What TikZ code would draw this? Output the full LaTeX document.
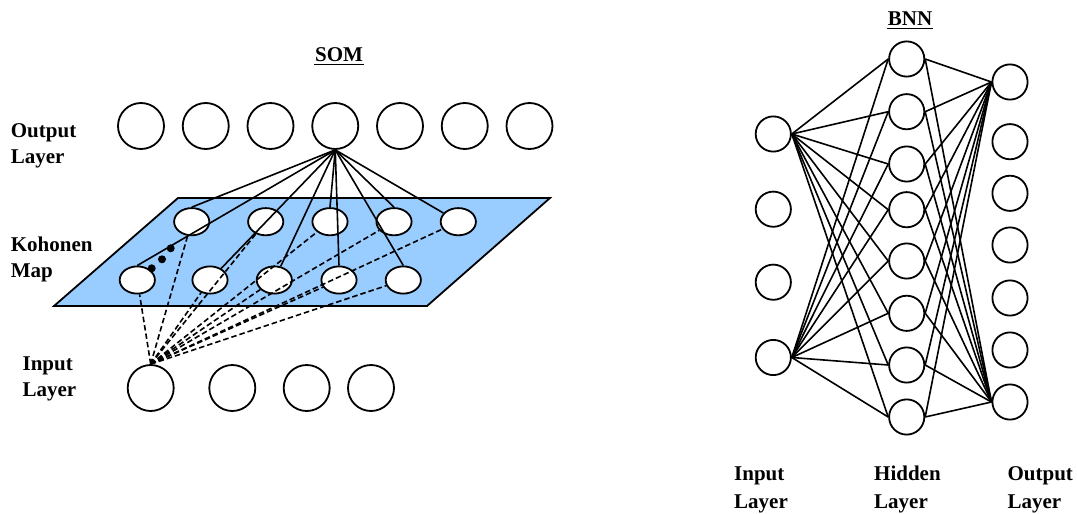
\documentclass[tikz,border=0pt]{standalone}
\usepackage{fontspec}
\setmainfont{Liberation Serif}
\usetikzlibrary{shapes.geometric}
\definecolor{mapblue}{RGB}{153,204,255}

\newcommand{\twoline}[3][0pt]{\begin{tabular}[t]{@{}l@{}}#2\\[#1]#3\end{tabular}}

\begin{document}
\begin{tikzpicture}[x=1pt,y=-1pt,line width=1.8pt,
  neuron/.style={draw,circle,minimum size=46pt,inner sep=0pt},
  unit/.style={draw,circle,minimum size=35.2pt,inner sep=0pt,fill=white},
  cell/.style={draw,ellipse,minimum width=35.2pt,minimum height=27.2pt,inner sep=0pt,fill=white},
  blob/.style={fill,circle,minimum size=8pt,inner sep=0pt},
  lbl/.style={font=\bfseries\fontsize{21}{26}\selectfont,anchor=base west,inner sep=0pt},
  ttl/.style={font=\bfseries\fontsize{21}{26}\selectfont,anchor=base,inner sep=0pt},
  wire/.style={line width=1.6pt},
  feed/.style={line width=1.6pt,dash pattern=on 5.5pt off 3pt},
  uline/.style={line width=1.6pt},
]
\useasboundingbox (0,0) rectangle (1077,514);

% ---------------- SOM ----------------
\node[ttl] (somt) at (339,61.7) {SOM};
\draw[uline] ([yshift=-2.8pt]somt.base west) -- ([yshift=-2.8pt]somt.base east);

\node[lbl] (lout) at (10,137) {\twoline{Output}{Layer}};
\node[lbl] (lmap) at (10,251.7) {\twoline{Kohonen}{Map}};
\node[lbl] (lin)  at (21.7,370) {\twoline{Input}{Layer}};

% output layer
\foreach \i in {1,...,7}
  \node[neuron] (o\i) at ({141+64.75*(\i-1)},126) {};

% input layer
\node[neuron] (i1) at (150.7,388) {};
\node[neuron] (i2) at (232.3,388) {};
\node[neuron] (i3) at (306.7,388) {};
\node[neuron] (i4) at (371,388) {};

% Kohonen map plane
\coordinate (pa) at (178,198);
\coordinate (pb) at (550,198);
\coordinate (pc) at (427,306);
\coordinate (pd) at (54,306);
\filldraw[fill=mapblue] (pa) -- (pb) -- (pc) -- (pd) -- cycle;

% map cells, back row and front row
\node[cell] (t1) at (191.7,221.7) {};
\node[cell] (t2) at (265.7,221.7) {};
\node[cell] (t3) at (330,221.7) {};
\node[cell] (t4) at (394,221.7) {};
\node[cell] (t5) at (458.3,221.7) {};
\node[cell] (b1) at (137.3,280) {};
\node[cell] (b2) at (210,280) {};
\node[cell] (b3) at (274.3,280) {};
\node[cell] (b4) at (339,280) {};
\node[cell] (b5) at (403.3,280) {};

% ellipsis dots
\node[blob] (d1) at (151.7,268.3) {};
\node[blob] (d2) at (162,259.3) {};
\node[blob] (d3) at (170.7,248.3) {};

% input to map (dashed)
\foreach \c in {t1,t2,t3,t4,t5,b1,b2,b3,b4,b5}
  \draw[feed] (i1.north) -- (\c);

% winning output neuron to map (solid)
\draw[wire] (o4.south) -- (t1.north);
\draw[wire] (o4.south) -- (t3.north);
\draw[wire] (o4.south) -- (t4.north);
\draw[wire] (o4.south) -- (t5);
\draw[wire] (o4.south) -- (b1.north);
\draw[wire] (o4.south) -- (b2);
\draw[wire] (o4.south) -- (b3);
\draw[wire] (o4.south) -- (b4.north);
\draw[wire] (o4.south) -- (b5.north);

% ---------------- BNN ----------------
\node[ttl] (bnnt) at (910,25) {BNN};
\draw[uline] ([yshift=-3.3pt]bnnt.base west) -- ([yshift=-3.3pt]bnnt.base east);

\node[lbl] (bin)  at (733.3,480) {\twoline[2pt]{Input}{Layer}};
\node[lbl] (bhid) at (873.3,480) {\twoline[2pt]{Hidden}{Layer}};
\node[lbl] (bout) at (1006.7,480) {\twoline[2pt]{Output}{Layer}};

\node[unit] (x1) at (773.3,134) {};
\node[unit] (x2) at (773.3,209.2) {};
\node[unit] (x3) at (773.3,282.2) {};
\node[unit] (x4) at (773.3,357.5) {};

\node[unit] (h1) at (906.7,59) {};
\node[unit] (h2) at (906.7,111.7) {};
\node[unit] (h3) at (906.7,164) {};
\node[unit] (h4) at (906.7,209.7) {};
\node[unit] (h5) at (906.7,261) {};
\node[unit] (h6) at (906.7,313.3) {};
\node[unit] (h7) at (906.7,365) {};
\node[unit] (h8) at (906.7,417) {};

\node[unit] (y1) at (1010,82) {};
\node[unit] (y2) at (1010,141.7) {};
\node[unit] (y3) at (1010,193.3) {};
\node[unit] (y4) at (1010,245) {};
\node[unit] (y5) at (1010,298) {};
\node[unit] (y6) at (1010,350) {};
\node[unit] (y7) at (1010,402) {};

\foreach \h in {1,...,8} {
  \draw[wire] (x1.east) -- (h\h.west);
  \draw[wire] (x4.east) -- (h\h.west);
  \draw[wire] (h\h.east) -- (y1.west);
  \draw[wire] (h\h.east) -- (y7.west);
}
\end{tikzpicture}
\end{document}
